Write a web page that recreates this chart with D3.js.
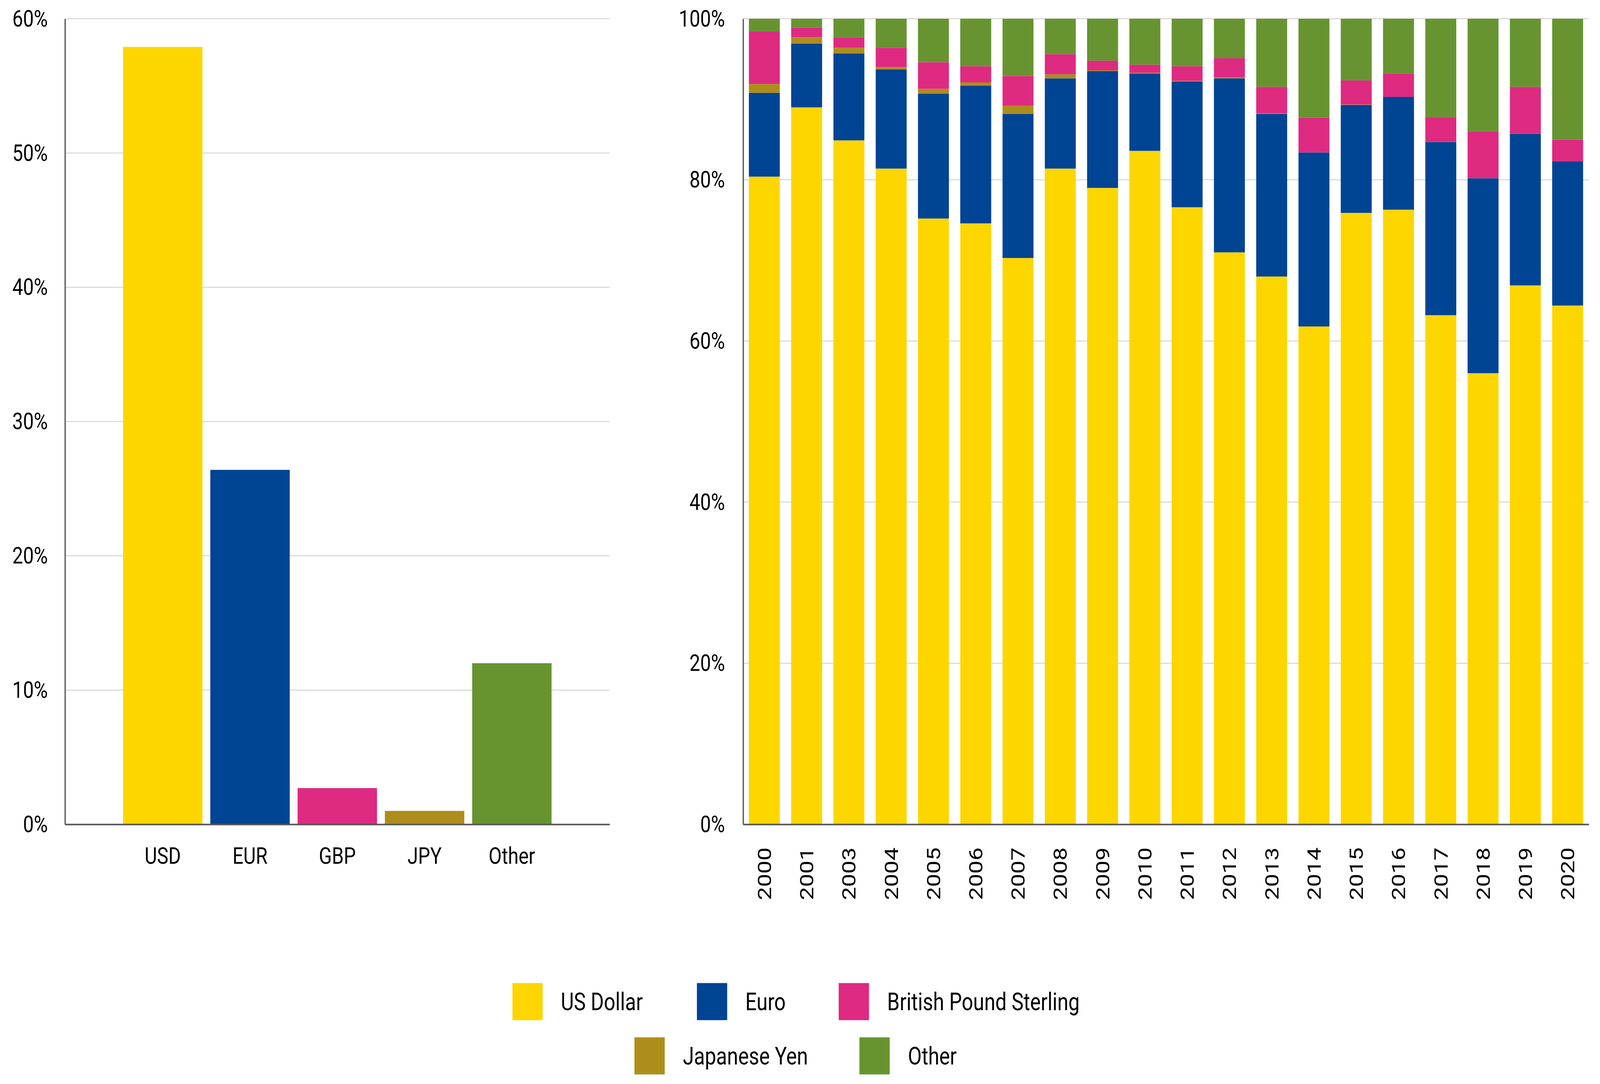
<!DOCTYPE html>
<html>
<head>
<meta charset="utf-8">
<script src="https://cdn.jsdelivr.net/npm/d3@7"></script>
<style>
  html, body { margin: 0; padding: 0; background: #fff; overflow: hidden; width: 100%; height: 100%; }
  #chart { width: 100vw; height: 100vh; }
  svg { display: block; width: 100%; height: 100%; }
  text { font-family: Roboto, "Noto Sans", sans-serif; fill: #000; }
</style>
</head>
<body>
<div id="chart"></div>
<script>
// ---------- DATA ----------
const currencies = ["USD", "EUR", "GBP", "JPY", "Other"];
const currencyShares = [57.9, 26.4, 2.7, 1.0, 12.0];

const years = ["2000","2001","2003","2004","2005","2006","2007","2008","2009","2010",
               "2011","2012","2013","2014","2015","2016","2017","2018","2019","2020"];
const usDollar = [80.4, 89.0, 84.9, 81.4, 75.2, 74.6, 70.3, 81.4, 79.0, 83.6,
                  76.6, 71.0, 68.0, 61.8, 75.9, 76.3, 63.2, 56.0, 66.9, 64.4];
const euro     = [10.4, 7.9, 10.8, 12.3, 15.5, 17.1, 17.9, 11.2, 14.5, 9.6,
                  15.6, 21.6, 20.2, 21.6, 13.4, 14.0, 21.5, 24.2, 18.8, 17.9];
const japaneseYen = [1.1, 0.8, 0.7, 0.3, 0.6, 0.4, 1.0, 0.5, 0.1, 0.1,
                     0.1, 0.1, 0.05, 0.0, 0.05, 0.0, 0.0, 0.0, 0.05, 0.0];
const poundSterling = [6.5, 1.2, 1.3, 2.4, 3.3, 2.0, 3.7, 2.5, 1.2, 1.0,
                       1.8, 2.4, 3.3, 4.3, 3.0, 2.9, 3.1, 5.8, 5.8, 2.7];
const other    = [1.6, 1.1, 2.3, 3.6, 5.4, 5.9, 7.1, 4.4, 5.2, 5.7,
                  5.9, 4.9, 8.45, 12.3, 7.65, 6.8, 12.2, 14.0, 8.45, 15.0];

const leftTicks = [0, 10, 20, 30, 40, 50, 60];
const rightTicks = [0, 20, 40, 60, 80, 100];

const seriesKeys = ["usd", "eur", "jpy", "gbp", "other"]; // stacking order (bottom->top)
const colors = { usd: "#FDD600", eur: "#004494", gbp: "#DE2A80", jpy: "#AD8E1C", other: "#679430" };
const currencyColorKeys = ["usd", "eur", "gbp", "jpy", "other"];

const legendRows = [
  [{ key: "usd", label: "US Dollar" }, { key: "eur", label: "Euro" }, { key: "gbp", label: "British Pound Sterling" }],
  [{ key: "jpy", label: "Japanese Yen" }, { key: "other", label: "Other" }]
];

// ---------- LAYOUT ----------
const W = 5021, H = 2776;
const yTop = 48, yBottom = 2111;
const fontSize = 60;
const axisColor = "#555555";
const gridColor = "#cccccc";

const svg = d3.select("#chart").append("svg")
  .attr("viewBox", `0 0 ${W} ${H}`)
  .attr("preserveAspectRatio", "none");

// ---------- LEFT CHART ----------
const L = { x0: 204, x1: 1913 };
const xL = d3.scaleBand().domain(currencies).range([L.x0, L.x1]).paddingInner(0.09).paddingOuter(0.665);
const yL = d3.scaleLinear().domain([0, 60]).range([yBottom, yTop]);

const gL = svg.append("g");
gL.selectAll("line.grid").data(leftTicks.filter(t => t > 0)).join("line")
  .attr("x1", L.x0).attr("x2", L.x1)
  .attr("y1", d => yL(d)).attr("y2", d => yL(d))
  .attr("stroke", gridColor).attr("stroke-width", 2);
gL.selectAll("rect.bar").data(currencies).join("rect")
  .attr("x", d => xL(d)).attr("width", xL.bandwidth())
  .attr("y", (d, i) => yL(currencyShares[i]))
  .attr("height", (d, i) => yL(0) - yL(currencyShares[i]))
  .attr("fill", (d, i) => colors[currencyColorKeys[i]]);
const yAxisL = d3.axisLeft(yL).tickValues(leftTicks).tickFormat(d => d + "%").tickSize(0).tickPadding(54);
gL.append("g").attr("transform", `translate(${L.x0},0)`).call(yAxisL)
  .call(g => g.select(".domain").attr("stroke", axisColor).attr("stroke-width", 4))
  .call(g => g.selectAll("text").attr("font-size", fontSize).attr("font-family", "Roboto").attr("fill", "#000"));
const xAxisL = d3.axisBottom(xL).tickSize(0).tickPadding(58);
gL.append("g").attr("transform", `translate(0,${yBottom})`).call(xAxisL)
  .call(g => g.select(".domain").attr("stroke", axisColor).attr("stroke-width", 4))
  .call(g => g.selectAll("text").attr("font-size", fontSize).attr("font-family", "Roboto").attr("fill", "#000"));

// ---------- RIGHT CHART ----------
const R = { x0: 2332, x1: 4986 };
const xR = d3.scaleBand().domain(years).range([R.x0, R.x1]).paddingInner(0.268).paddingOuter(0.136);
const yR = d3.scaleLinear().domain([0, 100]).range([yBottom, yTop]);

const table = years.map((y, i) => ({
  year: y, usd: usDollar[i], eur: euro[i], jpy: japaneseYen[i], gbp: poundSterling[i], other: other[i]
}));
const stacked = d3.stack().keys(seriesKeys)(table);

const gR = svg.append("g");
gR.selectAll("line.grid").data(rightTicks.filter(t => t > 0)).join("line")
  .attr("x1", R.x0).attr("x2", R.x1)
  .attr("y1", d => yR(d)).attr("y2", d => yR(d))
  .attr("stroke", gridColor).attr("stroke-width", 2);

gR.selectAll("g.series").data(stacked).join("g")
  .attr("fill", d => colors[d.key])
  .selectAll("rect").data(d => d).join("rect")
  .attr("x", d => xR(d.data.year)).attr("width", xR.bandwidth())
  .attr("y", d => yR(Math.min(100, d[1])))
  .attr("height", d => Math.max(0, yR(d[0]) - yR(Math.min(100, d[1]))));

const yAxisR = d3.axisLeft(yR).tickValues(rightTicks).tickFormat(d => d + "%").tickSize(0).tickPadding(57);
gR.append("g").attr("transform", `translate(${R.x0},0)`).call(yAxisR)
  .call(g => g.select(".domain").attr("stroke", axisColor).attr("stroke-width", 4))
  .call(g => g.selectAll("text").attr("font-size", fontSize).attr("font-family", "Roboto").attr("fill", "#000"));

const xAxisR = d3.axisBottom(xR).tickSize(0);
gR.append("g").attr("transform", `translate(0,${yBottom})`).call(xAxisR)
  .call(g => g.select(".domain").attr("stroke", axisColor).attr("stroke-width", 4))
  .call(g => g.selectAll("text")
    .attr("font-size", fontSize).attr("font-family", "Roboto").attr("fill", "#000")
    .attr("text-anchor", "end")
    .attr("y", 0).attr("dy", "0.35em")
    .attr("transform", "translate(0,59) rotate(-90)"));

// ---------- LEGEND ----------
const legendSwatchX = [[1608, 2187, 2632], [1991, 2697]];
const legendRowY = [2565, 2704];
const sw = 95;
const gLeg = svg.append("g");
legendRows.forEach((row, r) => {
  row.forEach((item, k) => {
    const x = legendSwatchX[r][k], cy = legendRowY[r];
    gLeg.append("rect").attr("x", x).attr("y", cy - sw / 2).attr("width", sw).attr("height", sw)
      .attr("fill", colors[item.key]);
    gLeg.append("text").attr("x", x + 152).attr("y", cy).attr("dy", "0.35em")
      .attr("font-size", 63).text(item.label);
  });
});
</script>
</body>
</html>
